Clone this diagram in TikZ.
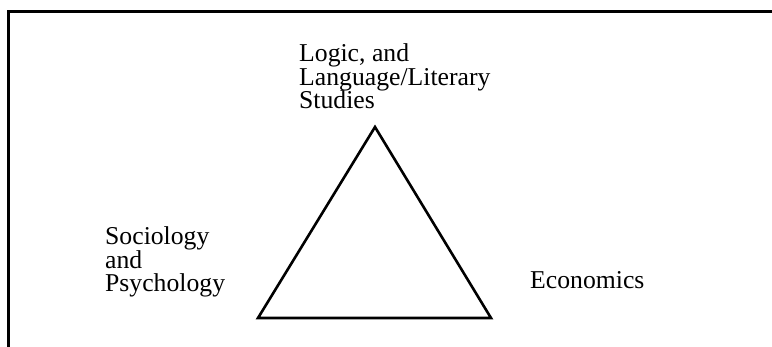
\documentclass[tikz,border=0pt]{standalone}
\usepackage{fontspec}
\setmainfont{Liberation Serif}
\tikzset{fieldtext/.style={anchor=north west,inner sep=0pt,align=left,font=\fontsize{25.7}{23.5}\selectfont}}
\begin{document}
\begin{tikzpicture}[x=1pt,y=1pt,yscale=-1,xscale=1]
\useasboundingbox (0,0) rectangle (772,347);

%Straight Lines [frame]
\draw [line width=3]  (8,347) -- (8,12) -- (772,12) ;

%Shape: Triangle
\coordinate (apex) at (375,127);
\coordinate (baseL) at (258,318);
\coordinate (baseR) at (491,318);
\draw [line width=2.6, line join=miter]  (apex) -- (baseL) -- (baseR) -- cycle ;

% Text Node
\node [fieldtext] (logic) at (299,43.5) {Logic, and\\Language/Literary\\Studies};
% Text Node
\node [fieldtext] (sociology) at (105,226.5) {Sociology\\and\\Psychology};
% Text Node
\node [fieldtext] (economics) at (530,271.5) {Economics};

\end{tikzpicture}
\end{document}
